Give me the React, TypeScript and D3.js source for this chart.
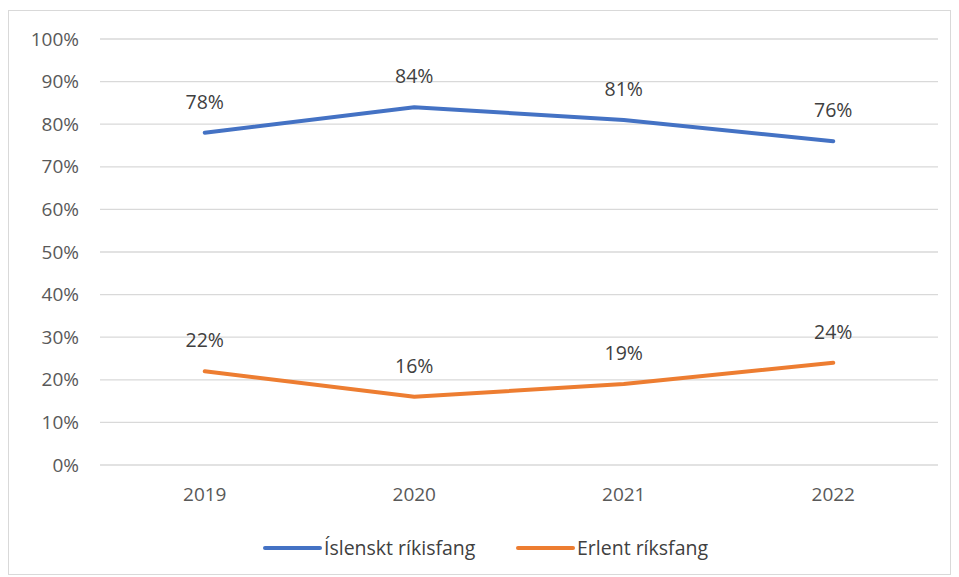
import * as d3 from "d3";
import { useEffect, useRef } from "react";

const years = ["2019", "2020", "2021", "2022"];
const icelandic = [78, 84, 81, 76];
const foreign = [22, 16, 19, 24];
const yTicks = [0, 10, 20, 30, 40, 50, 60, 70, 80, 90, 100];
const seriesNames = ["Íslenskt ríkisfang", "Erlent ríksfang"];
const seriesColors = ["#4472C4", "#ED7D31"];

export default function App() {
  const ref = useRef<SVGSVGElement>(null);

  useEffect(() => {
    const width = 959;
    const height = 577;
    const font = "'Open Sans', 'Noto Sans', sans-serif";

    const svg = d3.select(ref.current)
      .attr("width", width)
      .attr("height", height)
      .style("position", "absolute")
      .style("left", "0px")
      .style("top", "0px")
      .style("font-family", font);
    svg.selectAll("*").remove();

    // outer frame
    svg.append("rect")
      .attr("x", 8.5).attr("y", 10.5)
      .attr("width", 942).attr("height", 564)
      .attr("fill", "#fff")
      .attr("stroke", "#d9d9d9");

    const x = d3.scaleBand().domain(years).range([100, 938]);
    const y = d3.scaleLinear().domain([0, 100]).range([465, 39]);

    // gridlines + y labels
    const grid = svg.append("g");
    grid.selectAll("line")
      .data(yTicks)
      .join("line")
      .attr("x1", 100).attr("x2", 938)
      .attr("y1", d => y(d)).attr("y2", d => y(d))
      .attr("stroke", "#d9d9d9")
      .attr("stroke-width", 1.3);

    grid.selectAll("text")
      .data(yTicks)
      .join("text")
      .attr("x", 79)
      .attr("y", d => y(d))
      .attr("dy", "0.35em")
      .attr("text-anchor", "end")
      .attr("font-size", 19)
      .attr("fill", "#595959")
      .text(d => d + "%");

    // x labels
    svg.append("g").selectAll("text")
      .data(years)
      .join("text")
      .attr("x", d => x(d)! + x.bandwidth() / 2)
      .attr("y", 494)
      .attr("dy", "0.35em")
      .attr("text-anchor", "middle")
      .attr("font-size", 19)
      .attr("fill", "#595959")
      .text(d => d);

    const line = d3.line<number>()
      .x((_, i) => x(years[i])! + x.bandwidth() / 2)
      .y(d => y(d));

    [icelandic, foreign].forEach((vals, si) => {
      svg.append("path")
        .datum(vals)
        .attr("d", line)
        .attr("fill", "none")
        .attr("stroke", seriesColors[si])
        .attr("stroke-width", 4)
        .attr("stroke-linecap", "round")
        .attr("stroke-linejoin", "round");

      svg.append("g").selectAll("text")
        .data(vals)
        .join("text")
        .attr("x", (_, i) => x(years[i])! + x.bandwidth() / 2)
        .attr("y", d => y(d) - 31)
        .attr("dy", "0.35em")
        .attr("text-anchor", "middle")
        .attr("font-size", 19.5)
        .attr("fill", "#404040")
        .text(d => d + "%");
    });

    // legend
    const legendX = [265, 518];
    seriesNames.forEach((name, i) => {
      const g = svg.append("g");
      g.append("line")
        .attr("x1", legendX[i]).attr("x2", legendX[i] + 55)
        .attr("y1", 548).attr("y2", 548)
        .attr("stroke", seriesColors[i])
        .attr("stroke-width", 4)
        .attr("stroke-linecap", "round");
      g.append("text")
        .attr("x", legendX[i] + 59)
        .attr("y", 548)
        .attr("dy", "0.35em")
        .attr("font-size", 19.5)
        .attr("fill", "#404040")
        .text(name);
    });
  }, []);

  return <svg ref={ref}></svg>;
}
